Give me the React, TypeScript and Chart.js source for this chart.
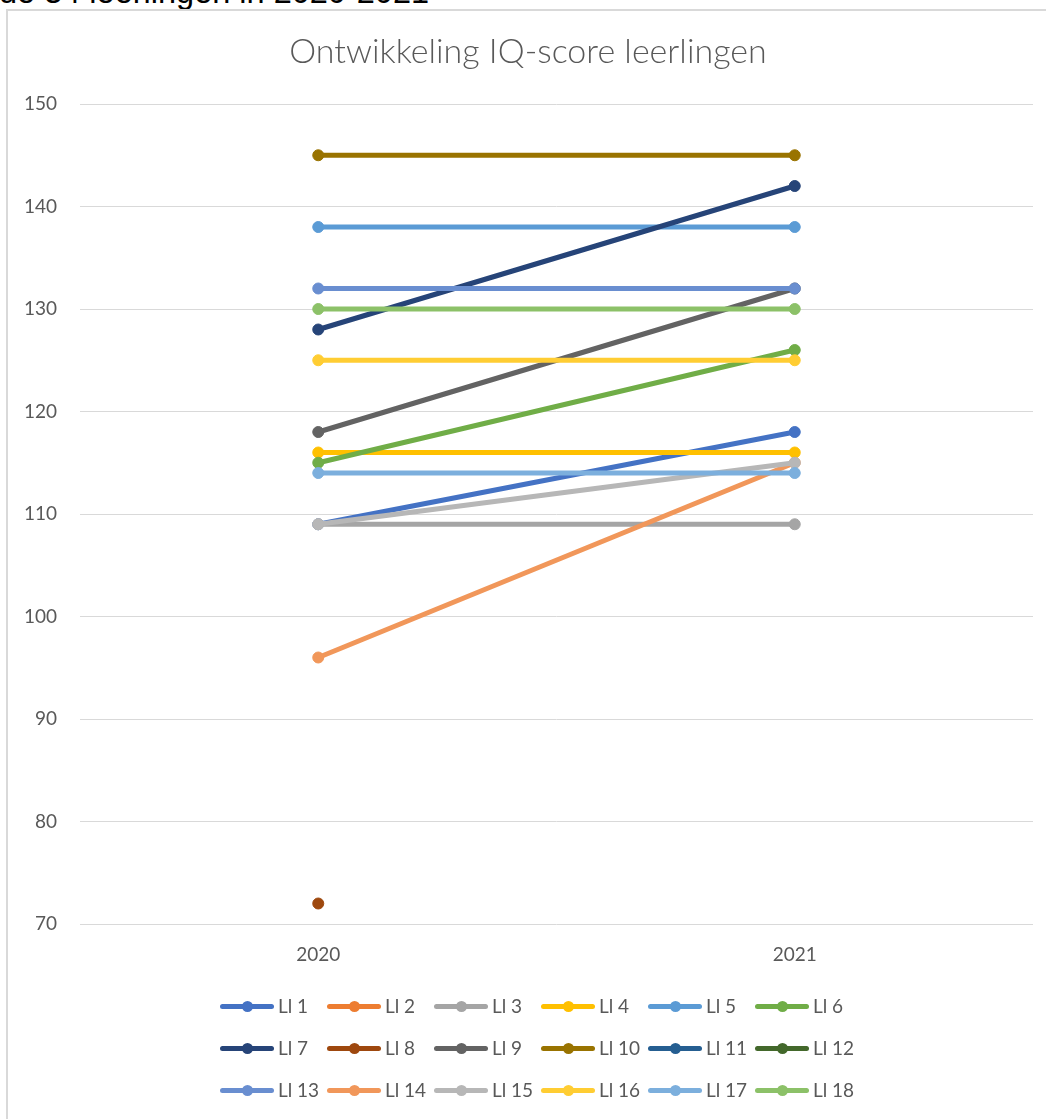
import React, { useEffect, useRef } from 'react';
import { Chart, registerables } from 'chart.js';

Chart.register(...registerables);

const categories = ['2020', '2021'];
const seriesNames = [
  'Ll 1', 'Ll 2', 'Ll 3', 'Ll 4', 'Ll 5', 'Ll 6',
  'Ll 7', 'Ll 8', 'Ll 9', 'Ll 10', 'Ll 11', 'Ll 12',
  'Ll 13', 'Ll 14', 'Ll 15', 'Ll 16', 'Ll 17', 'Ll 18',
];
const ll1 = [109, 118];
const ll2 = [null, null];
const ll3 = [109, 109];
const ll4 = [116, 116];
const ll5 = [138, 138];
const ll6 = [115, 126];
const ll7 = [128, 142];
const ll8 = [72, null];
const ll9 = [118, 132];
const ll10 = [145, 145];
const ll11 = [null, null];
const ll12 = [null, null];
const ll13 = [132, 132];
const ll14 = [96, 115];
const ll15 = [109, 115];
const ll16 = [125, 125];
const ll17 = [114, 114];
const ll18 = [130, 130];
const seriesValues = [ll1, ll2, ll3, ll4, ll5, ll6, ll7, ll8, ll9, ll10, ll11, ll12, ll13, ll14, ll15, ll16, ll17, ll18];
const seriesColors = [
  '#4472C4', '#ED7D31', '#A5A5A5', '#FFC000', '#5B9BD5', '#70AD47',
  '#264478', '#9E480E', '#636363', '#997300', '#255E91', '#43682B',
  '#698ED0', '#F1975A', '#B7B7B7', '#FFCD33', '#7CAFDD', '#8CC168',
];
const yTicks = { min: 70, max: 150, step: 10 };
const chartTitle = 'Ontwikkeling IQ-score leerlingen';
const headingText = 'de 34 leerlingen in 2020-2021';

const FONT = 'Lato, "Liberation Sans", sans-serif';
const TEXT = '#595959';

export default function App() {
  const ref = useRef<HTMLCanvasElement>(null);

  useEffect(() => {
    const n = seriesValues.length;
    const chart = new Chart(ref.current as HTMLCanvasElement, {
      type: 'line',
      data: {
        labels: categories,
        datasets: seriesValues.map((d, i) => ({
          label: seriesNames[i],
          data: d as any,
          borderColor: seriesColors[i],
          backgroundColor: seriesColors[i],
          pointBackgroundColor: seriesColors[i],
          pointBorderColor: seriesColors[i],
          borderWidth: 5,
          pointRadius: 5.5,
          pointBorderWidth: 1,
          pointHoverRadius: 5.5,
          borderCapStyle: 'round' as const,
          fill: false,
          tension: 0,
          order: n - 1 - i,
        })),
      },
      options: {
        responsive: false,
        animation: false,
        devicePixelRatio: 1,
        events: [],
        layout: { padding: { left: 23, right: 13, top: 0, bottom: 152.3 } },
        plugins: {
          legend: { display: false },
          tooltip: { enabled: false },
          title: {
            display: true,
            text: chartTitle,
            color: TEXT,
            font: { family: FONT, size: 34, weight: '300' as any, lineHeight: 1.2 },
            padding: { top: 32, bottom: 31.2 },
          },
        },
        scales: {
          x: {
            offset: true,
            grid: { display: false, drawTicks: false },
            border: { display: false },
            ticks: { color: TEXT, font: { family: FONT, size: 19 }, padding: 19 },
            afterFit: (s: any) => { s.height = 42.7; },
          },
          y: {
            min: yTicks.min,
            max: yTicks.max,
            ticks: { stepSize: yTicks.step, color: TEXT, font: { family: FONT, size: 19 }, padding: 23 },
            grid: { color: '#D9D9D9', lineWidth: 1, drawTicks: false },
            border: { display: false },
            afterFit: (s: any) => { s.width = 57; },
          },
        },
      },
    });
    return () => chart.destroy();
  }, []);

  return (
    <div style={{ position: 'absolute', left: 0, top: 0, width: 1046, height: 1119, overflow: 'hidden', background: '#fff' }}>
      <div style={{ position: 'absolute', left: -1, top: -24, fontFamily: '"Liberation Sans", Arial, sans-serif', fontSize: 32.5, lineHeight: '32.5px', color: '#000', whiteSpace: 'nowrap' }}>
        {headingText}
      </div>
      <div style={{ position: 'absolute', left: 6, top: 9, width: 1200, height: 1300, borderLeft: '2px solid #D9D9D9', borderTop: '2px solid #D9D9D9' }} />
      <canvas ref={ref} width={1046} height={1119} style={{ position: 'absolute', left: 0, top: 0, width: 1046, height: 1119 }} />
      <div style={{ position: 'absolute', left: 220, top: 985, display: 'grid', gridTemplateColumns: 'repeat(6, 107px)', gridAutoRows: '42px', alignItems: 'center' }}>
        {seriesNames.map((name, i) => (
          <div key={name} style={{ display: 'flex', alignItems: 'center', whiteSpace: 'nowrap' }}>
            <div style={{ position: 'relative', width: 54, height: 11, flex: 'none' }}>
              <div style={{ position: 'absolute', left: 0, top: 3, width: 54, height: 5, borderRadius: 2.5, background: seriesColors[i] }} />
              <div style={{ position: 'absolute', left: 21.5, top: 0, width: 11, height: 11, borderRadius: '50%', background: seriesColors[i] }} />
            </div>
            <span style={{ marginLeft: 4, fontFamily: FONT, fontSize: 19, color: TEXT, lineHeight: '22px' }}>{name}</span>
          </div>
        ))}
      </div>
    </div>
  );
}
